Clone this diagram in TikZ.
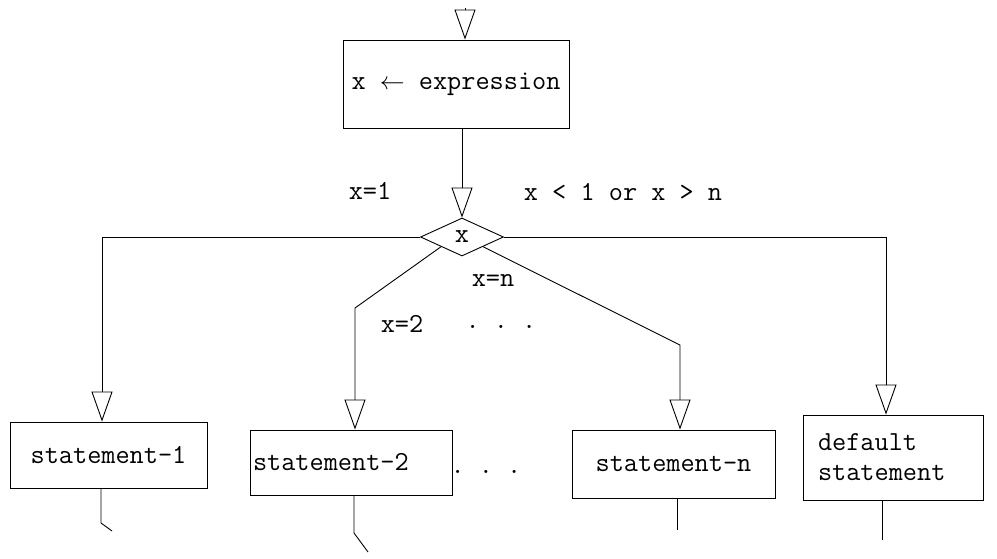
\documentclass[tikz,border=0pt]{standalone}
\usetikzlibrary{shapes.geometric,arrows.meta}
\begin{document}
\begin{tikzpicture}[x=1pt,y=-1pt,
  font=\fontsize{27.5}{30}\selectfont\ttfamily,
  line width=0.9pt,
  box/.style={draw, rectangle, inner sep=0pt},
  tri/.style={-{Triangle[open,length=30pt,width=21pt]}},
  lab/.style={inner sep=0pt}]
\useasboundingbox (0,0) rectangle (997,558);

% nodes
\node[box, minimum width=226pt, minimum height=88pt] (e) at (456,84) {x $\leftarrow$ expression};
\node[draw, diamond, minimum width=83pt, minimum height=38pt, inner sep=0pt] (d) at (462,237) {x};
\node[box, minimum width=197pt, minimum height=66pt] (s1) at (108.5,455) {statement-1};
\node[box, minimum width=202pt, minimum height=65pt, text width=196pt, align=left, inner xsep=3pt] (s2) at (351,462.5) {statement-2};
\node[box, minimum width=203pt, minimum height=68pt] (sn) at (673.5,464) {statement-n};
\node[box, minimum width=180pt, minimum height=85pt, text width=150pt, align=left, inner xsep=15pt] (sd) at (893,457.5) {default\\statement};

% labels
\node[lab] (l1) at (370,191) {x=1};
\node[lab] (lo) at (623,192) {x < 1 or x > n};
\node[lab] (ln) at (493,280) {x=n};
\node[lab] (l2) at (402,324) {x=2};
\node[lab] (dots1) at (501,327) {.\ .\ .};
\node[lab] (dots2) at (486,472) {.\ .\ .};

% coordinates
\coordinate (top) at (465,8);
\coordinate (c2) at (355,308);
\coordinate (cn) at (680,345);
\coordinate (cd) at (886,0);
\coordinate (o1a) at (101,523);
\coordinate (o1b) at (112,531);
\coordinate (o2a) at (354,533);
\coordinate (o2b) at (368,552);
\coordinate (ona) at (677,530);
\coordinate (oda) at (882,540);

% connectors
\draw[tri] (top) -- (top |- e.north);
\draw[tri] (e.south -| d.north) -- (d.north);
\draw[tri] (d.west) -| (s1.north -| 102,0);
\draw[tri] (d.south west) -- (c2) -- (c2 |- s2.north);
\draw[tri] (d.south east) -- (cn) -- (cn |- sn.north);
\draw[tri] (d.east) -| (cd |- sd.north);

\draw (s1.south -| o1a) -- (o1a) -- (o1b);
\draw (s2.south -| o2a) -- (o2a) -- (o2b);
\draw (sn.south -| ona) -- (ona);
\draw (sd.south -| oda) -- (oda);
\end{tikzpicture}
\end{document}
